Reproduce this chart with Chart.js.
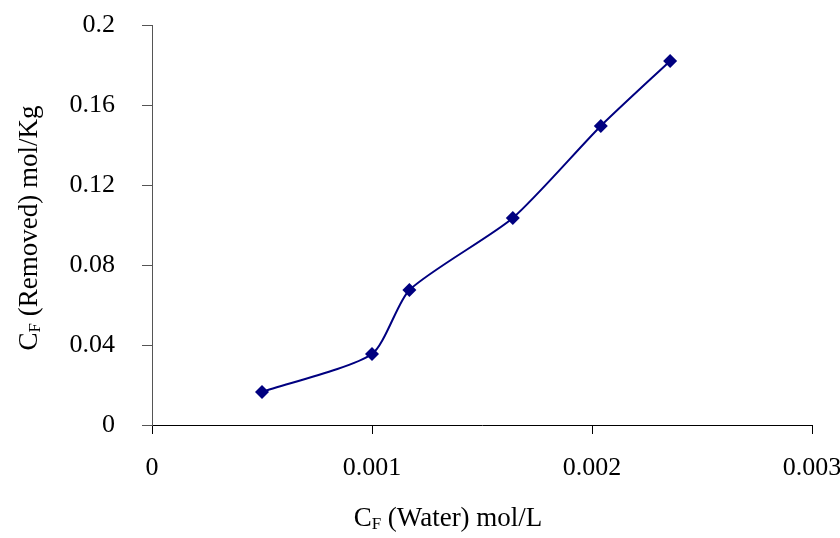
<!DOCTYPE html>
<html>
<head>
<meta charset="utf-8">
<script src="https://cdn.jsdelivr.net/npm/chart.js@4/dist/chart.umd.min.js"></script>
<style>
  html, body { margin: 0; padding: 0; background: #fff; }
  #wrap { width: 840px; height: 538px; }
</style>
</head>
<body>
<div id="wrap"><canvas id="chart" width="840" height="538"></canvas></div>
<script>
// values
const waterConc = [0.0005, 0.001, 0.00117, 0.00164, 0.00204, 0.002355];
const removedConc = [0.0165, 0.0355, 0.0675, 0.1035, 0.1495, 0.182];
const xTickLabels = ['0', '0.001', '0.002', '0.003'];
const yTickLabels = ['0', '0.04', '0.08', '0.12', '0.16', '0.2'];

const serif = '"Liberation Serif", "Times New Roman", serif';

// draws "C" + subscript "F" + rest of the title
function drawSubTitle(ctx, rest, size) {
    const sub = Math.round(size * 0.62);
    ctx.font = size + 'px ' + serif;
    const wC = ctx.measureText('C').width;
    const wR = ctx.measureText(rest).width;
    ctx.font = sub + 'px ' + serif;
    const wF = ctx.measureText('F').width;
    let x = -(wC + wF + wR) / 2;
    ctx.textBaseline = 'alphabetic';
    ctx.textAlign = 'left';
    ctx.font = size + 'px ' + serif;
    ctx.fillText('C', x, 0);
    x += wC;
    ctx.font = sub + 'px ' + serif;
    ctx.fillText('F', x, 3);
    x += wF;
    ctx.font = size + 'px ' + serif;
    ctx.fillText(rest, x, 0);
}

const titles = {
    id: 'titles',
    afterDraw(chart) {
        const ctx = chart.ctx;
        ctx.save();
        ctx.fillStyle = '#000';
        ctx.translate(448, 526);
        drawSubTitle(ctx, ' (Water) mol/L', 27);
        ctx.restore();

        ctx.save();
        ctx.fillStyle = '#000';
        ctx.translate(37, 228);
        ctx.rotate(-Math.PI / 2);
        drawSubTitle(ctx, ' (Removed) mol/Kg', 27);
        ctx.restore();
    }
};

function noPad(scale) {
    scale.paddingLeft = 0;
    scale.paddingRight = 0;
    scale.paddingTop = 0;
    scale.paddingBottom = 0;
}

new Chart(document.getElementById('chart'), {
    type: 'scatter',
    data: {
        datasets: [{
            data: waterConc.map((x, i) => ({ x: x, y: removedConc[i] })),
            showLine: true,
            tension: 0.22,
            borderColor: '#000080',
            borderWidth: 2,
            backgroundColor: '#000080',
            pointStyle: 'rectRot',
            pointRadius: 7,
            pointBorderWidth: 0
        }]
    },
    options: {
        responsive: false,
        animation: false,
        layout: { padding: { left: 0, right: 28, top: 25, bottom: 0 } },
        plugins: { legend: { display: false }, tooltip: { enabled: false } },
        scales: {
            x: {
                type: 'linear',
                min: 0,
                max: 0.003,
                afterFit(scale) { scale.height = 113; noPad(scale); },
                afterBuildTicks(scale) {
                    scale.ticks = xTickLabels.map(t => ({ value: parseFloat(t) }));
                },
                ticks: {
                    callback: (v, i) => xTickLabels[i],
                    font: { family: serif, size: 26 },
                    color: '#000',
                    padding: 19,
                    maxRotation: 0
                },
                grid: { drawOnChartArea: false, tickLength: 9, color: '#000' },
                border: { color: '#000', width: 1 }
            },
            y: {
                type: 'linear',
                min: 0,
                max: 0.2,
                afterFit(scale) { scale.width = 152; noPad(scale); },
                afterBuildTicks(scale) {
                    scale.ticks = yTickLabels.map(t => ({ value: parseFloat(t) }));
                },
                ticks: {
                    callback: (v, i) => yTickLabels[i],
                    font: { family: serif, size: 26 },
                    color: '#000',
                    padding: 27
                },
                grid: { drawOnChartArea: false, tickLength: 10, color: '#555' },
                border: { color: '#555', width: 1 }
            }
        }
    },
    plugins: [titles]
});
</script>
</body>
</html>
